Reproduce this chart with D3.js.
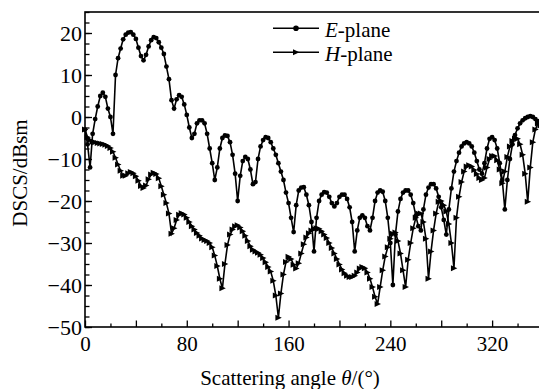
<!DOCTYPE html>
<html>
<head>
<meta charset="utf-8">
<script src="https://cdn.jsdelivr.net/npm/d3@7"></script>
<style>
  body { margin: 0; background: #fff; }
  text { font-family: "Liberation Serif", "Times New Roman", serif; fill: #000; }
</style>
</head>
<body>
<svg id="chart" width="539" height="389"></svg>
<script>
// Scattering angle samples (degrees), one every 2°
const angles = d3.range(0, 361, 2);

// Bistatic RCS, E-plane cut (dBsm)
const ePlane = [
  -3, -6.5, -12, -4, -0.5, 2.5, 5, 5.8, 4.8, 2,
  0, -4, 10, 14, 16.3, 18.5, 19.6, 20.1, 20.2, 19.6,
  18.6, 16.5, 14.5, 13.5, 14.8, 16.8, 18.3, 19, 18.8, 17.8,
  16.5, 15, 12, 9, 4, 2, 4.2, 5.2, 4.8, 3,
  0.5, -2.5, -5, -4, -1.5, -0.8, -0.8, -1.5, -4, -7.5,
  -11, -15, -12, -7.5, -5, -4.4, -4.5, -6, -9, -13.5,
  -20, -14, -10.5, -9.5, -10, -12.5, -16, -15.5, -10, -7,
  -5.5, -4.8, -5, -6, -7.5, -9, -11, -13, -15, -18,
  -20.5, -24, -27.4, -21, -17.5, -16.8, -16.7, -18.5, -21, -25,
  -32, -24, -20, -18.5, -17.9, -18, -19, -20.5, -21.3, -20.5,
  -19, -18.5, -18.5, -19.5, -21.5, -25, -32, -27, -24, -23.4,
  -24, -26, -27, -24, -20, -18, -17.5, -17.8, -20, -24,
  -30, -40, -28, -22.5, -19.5, -18, -17.5, -17.5, -18.5, -20.5,
  -23.5, -26, -27, -22, -18.5, -16.8, -16, -16, -17, -19,
  -21.5, -24.5, -28, -22, -17, -13, -10.5, -8.5, -7, -6.3,
  -6, -6.3, -7, -8.5, -10.5, -12.5, -13.5, -11, -7.5, -5.2,
  -4.8, -5.5, -7.5, -11, -15, -22, -15, -10, -6.5, -4.3,
  -2.7, -1.5, -0.8, -0.3, 0, 0.2, 0, -0.5, -1, -2,
  -3
];

// Bistatic RCS, H-plane cut (dBsm)
const hPlane = [
  -3, -4.8, -5.5, -5.9, -6, -6.2, -6.3, -6.4, -6.6, -6.9,
  -7.4, -8.3, -9.7, -11.3, -12.8, -14, -14, -13.4, -13.1, -13.4,
  -14.1, -15.2, -16.4, -16.9, -16.3, -14.8, -13.7, -13.3, -13.6, -14.6,
  -16.5, -18.5, -20.5, -23, -27.8, -26.5, -24.5, -23.3, -22.9, -23.2,
  -24, -25, -26, -26.8, -27.6, -28.3, -28.9, -29.3, -29.5, -30,
  -31, -33, -35.5, -38.5, -40.8, -35, -30.5, -28, -26.8, -26,
  -25.8, -26.3, -27.2, -28.3, -29.5, -30.8, -31.6, -32, -32.3, -32.8,
  -33.6, -34.6, -35.7, -36.8, -39, -42.5, -47.8, -42, -37.5, -34.5,
  -33.3, -33.8, -35.2, -36.1, -34.8, -32.5, -30.3, -28.7, -27.7, -27,
  -26.6, -26.5, -26.6, -27.2, -28, -28.8, -30, -31.2, -32.5, -33.8,
  -35.1, -36.3, -37.2, -37.8, -38.1, -38.1, -37.8, -37, -36.1, -35.7,
  -36, -37, -38.5, -40.5, -42.8, -44.5, -40.5, -36.5, -33.2, -31,
  -29, -27.8, -27.5, -29.5, -32.5, -36.5, -40.5, -34, -30, -26.5,
  -24, -23, -23, -25, -29, -38.5, -32, -27, -23, -20.2,
  -20, -21, -22.5, -25.5, -30, -36, -24, -19, -15.5, -13,
  -11.8, -11.5, -11.8, -12.6, -13.6, -14.5, -15, -14.5, -12, -10,
  -9.3, -9.3, -10.3, -12.5, -15.8, -13, -9.5, -7, -5.7, -5.1,
  -5.2, -6.5, -9, -13.5, -20.2, -12, -6, -3, -1.5, -2,
  -3
];

const xTickValues = [0, 80, 160, 240, 320];
const yTickValues = [-50, -40, -30, -20, -10, 0, 10, 20];
const seriesNames = ["E", "H"];

const svg = d3.select("#chart");
const plotLeft = 85, plotTop = 12, plotBottom = 327, plotRight = 543;

const x = d3.scaleLinear().domain([0, 360]).range([plotLeft, plotRight]);
const y = d3.scaleLinear().domain([-50, 25]).range([plotBottom, plotTop]);

// Plot frame
svg.append("rect")
  .attr("x", plotLeft).attr("y", plotTop)
  .attr("width", plotRight - plotLeft).attr("height", plotBottom - plotTop)
  .attr("fill", "none").attr("stroke", "#000").attr("stroke-width", 1.6);

// Inward ticks: minor then major
const xMinor = d3.axisBottom(x).tickValues(d3.range(20, 360, 40)).tickSize(-3.5).tickFormat("");
const xMajor = d3.axisBottom(x).tickValues(d3.range(0, 361, 40)).tickSize(-6.5).tickPadding(9)
  .tickFormat(d => xTickValues.includes(d) ? d : "");
const yMinor = d3.axisLeft(y).tickValues(d3.range(-50, 25.1, 2.5)).tickSize(-4.5).tickFormat("");
const yMajor = d3.axisLeft(y).tickValues(yTickValues).tickSize(-7).tickPadding(3);

function styleAxis(g, size) {
  g.select(".domain").remove();
  g.selectAll(".tick line").attr("stroke", "#000").attr("stroke-width", 1.3);
  g.selectAll("text").attr("font-size", size).attr("font-family", "Liberation Serif");
}

svg.append("g").attr("transform", `translate(0,${plotBottom})`).call(xMinor).call(styleAxis, 21);
svg.append("g").attr("transform", `translate(0,${plotBottom})`).call(xMajor).call(styleAxis, 21);
svg.append("g").attr("transform", `translate(${plotLeft},0)`).call(yMinor).call(styleAxis, 22);
svg.append("g").attr("transform", `translate(${plotLeft},0)`).call(yMajor).call(styleAxis, 22);

// Axis titles
const xTitle = svg.append("text")
  .attr("x", 290).attr("y", 385)
  .attr("text-anchor", "middle").attr("font-size", 21);
xTitle.append("tspan").text("Scattering angle ");
xTitle.append("tspan").attr("font-style", "italic").text("θ");
xTitle.append("tspan").text("/(°)");

svg.append("text")
  .attr("transform", "translate(27,173) rotate(-90)")
  .attr("text-anchor", "middle").attr("font-size", 21)
  .text("DSCS/dBsm");

// Curves
const plot = svg.append("g");
const line = d3.line().x((d, i) => x(angles[i])).y(d => y(d));

const triangle = "M-3,-3L3.4,0L-3,3Z";

function drawSeries(values, kind) {
  plot.append("path").datum(values)
    .attr("d", line).attr("fill", "none")
    .attr("stroke", "#000").attr("stroke-width", 1.6);
  const pts = plot.append("g").selectAll(kind === "E" ? "circle" : "path")
    .data(values).enter();
  if (kind === "E") {
    pts.append("circle")
      .attr("cx", (d, i) => x(angles[i])).attr("cy", d => y(d))
      .attr("r", 2.4).attr("fill", "#000");
  } else {
    pts.append("path")
      .attr("d", triangle)
      .attr("transform", (d, i) => `translate(${x(angles[i])},${y(d)})`)
      .attr("fill", "#000");
  }
}
drawSeries(ePlane, "E");
drawSeries(hPlane, "H");

// Legend
const legendRows = [{ name: seriesNames[0], ly: 28.3 }, { name: seriesNames[1], ly: 52.3 }];
legendRows.forEach(r => {
  svg.append("line")
    .attr("x1", 273).attr("x2", 319).attr("y1", r.ly).attr("y2", r.ly)
    .attr("stroke", "#000").attr("stroke-width", 1.4);
  if (r.name === "E") {
    svg.append("circle").attr("cx", 296).attr("cy", r.ly).attr("r", 2.8).attr("fill", "#000");
  } else {
    svg.append("path").attr("d", triangle)
      .attr("transform", `translate(296,${r.ly})`).attr("fill", "#000");
  }
  const t = svg.append("text").attr("x", 325).attr("y", r.ly + 8.8).attr("font-size", 21);
  t.append("tspan").attr("font-style", "italic").text(r.name);
  t.append("tspan").text("-plane");
});
</script>
</body>
</html>
